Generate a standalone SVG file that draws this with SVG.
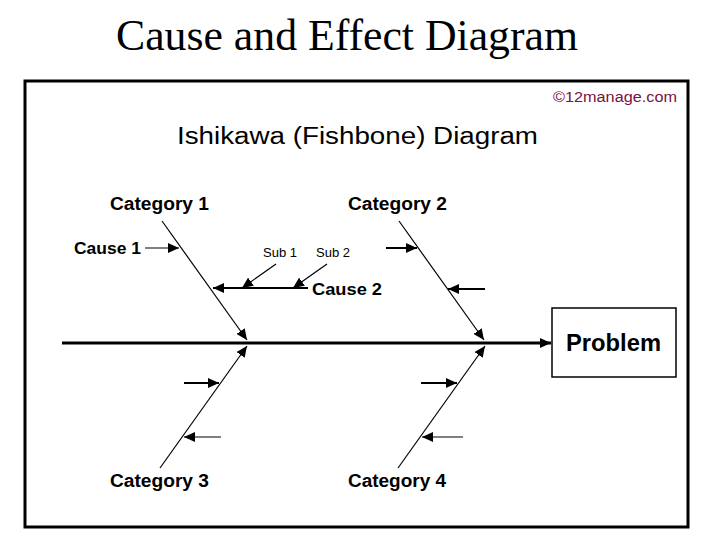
<svg xmlns="http://www.w3.org/2000/svg" width="720" height="540" viewBox="0 0 720 540">
<style>
.sans{font-family:"Liberation Sans",Arial,sans-serif;fill:#000}
.b{font-weight:bold}
.cat{font-size:18px;font-weight:bold}
.cause{font-size:17px;font-weight:bold}
.sub{font-size:13px}
.bone{stroke:#000;stroke-width:1.2;fill:none}
.thin{stroke:#000;stroke-width:1.2;fill:none}
.thick{stroke:#000;stroke-width:2;fill:none}
.spine{stroke:#000;stroke-width:3;fill:none}
</style>
<defs>
<marker id="ah" markerUnits="userSpaceOnUse" markerWidth="12" markerHeight="10" refX="11" refY="5" orient="auto">
<path d="M0,0 L11,5 L0,10 Z" fill="#000"/>
</marker>
</defs>
<rect width="720" height="540" fill="#fff"/>
<text x="116" y="50" font-family="'Liberation Serif','Times New Roman',serif" font-size="44" textLength="462" lengthAdjust="spacingAndGlyphs">Cause and Effect Diagram</text>
<rect x="25" y="81" width="663" height="446" fill="#fff" stroke="#000" stroke-width="3"/>
<text class="sans" x="553" y="102" font-size="14" style="fill:#7a1040" textLength="124" lengthAdjust="spacingAndGlyphs">©12manage.com</text>
<text class="sans" x="177" y="144" font-size="23" textLength="361" lengthAdjust="spacingAndGlyphs">Ishikawa (Fishbone) Diagram</text>

<g id="connectors">
<line class="spine" x1="62" y1="343" x2="551" y2="343" marker-end="url(#ah)"/>
<line class="bone" x1="162" y1="221" x2="247" y2="340" marker-end="url(#ah)"/>
<line class="bone" x1="399" y1="221" x2="484" y2="340" marker-end="url(#ah)"/>
<line class="bone" x1="160" y1="468" x2="247" y2="346" marker-end="url(#ah)"/>
<line class="bone" x1="398" y1="468" x2="485" y2="346" marker-end="url(#ah)"/>
<line class="thin" x1="145" y1="248" x2="179" y2="248" marker-end="url(#ah)"/>
<line class="thick" x1="308" y1="288" x2="213" y2="288" marker-end="url(#ah)"/>
<line class="thin" x1="276" y1="264" x2="242" y2="288" marker-end="url(#ah)"/>
<line class="thin" x1="327" y1="264" x2="293" y2="288" marker-end="url(#ah)"/>
<line class="thick" x1="386" y1="248" x2="417" y2="248" marker-end="url(#ah)"/>
<line class="thick" x1="485" y1="289" x2="448" y2="289" marker-end="url(#ah)"/>
<line class="thick" x1="184" y1="383" x2="219" y2="383" marker-end="url(#ah)"/>
<line class="thin" x1="221" y1="437" x2="184" y2="437" marker-end="url(#ah)"/>
<line class="thick" x1="421" y1="383" x2="457" y2="383" marker-end="url(#ah)"/>
<line class="thin" x1="463" y1="437" x2="422" y2="437" marker-end="url(#ah)"/>
</g>

<g id="problem">
<rect x="552" y="308" width="124" height="69" fill="#fff" stroke="#000" stroke-width="1.5"/>
<text class="sans b" x="566" y="351" font-size="23" textLength="95" lengthAdjust="spacingAndGlyphs">Problem</text>
</g>
<g id="category1"><text class="sans cat" x="110" y="210" textLength="99" lengthAdjust="spacingAndGlyphs">Category 1</text></g>
<g id="category2"><text class="sans cat" x="348" y="210" textLength="99" lengthAdjust="spacingAndGlyphs">Category 2</text></g>
<g id="category3"><text class="sans cat" x="110" y="487" textLength="99" lengthAdjust="spacingAndGlyphs">Category 3</text></g>
<g id="category4"><text class="sans cat" x="348" y="487" textLength="98" lengthAdjust="spacingAndGlyphs">Category 4</text></g>
<g id="cause1"><text class="sans cause" x="74" y="254" textLength="67" lengthAdjust="spacingAndGlyphs">Cause 1</text></g>
<g id="cause2"><text class="sans cause" x="312" y="295" textLength="70" lengthAdjust="spacingAndGlyphs">Cause 2</text></g>
<g id="sub1"><text class="sans sub" x="263" y="257" textLength="34" lengthAdjust="spacingAndGlyphs">Sub 1</text></g>
<g id="sub2"><text class="sans sub" x="316" y="257" textLength="34" lengthAdjust="spacingAndGlyphs">Sub 2</text></g>
</svg>
